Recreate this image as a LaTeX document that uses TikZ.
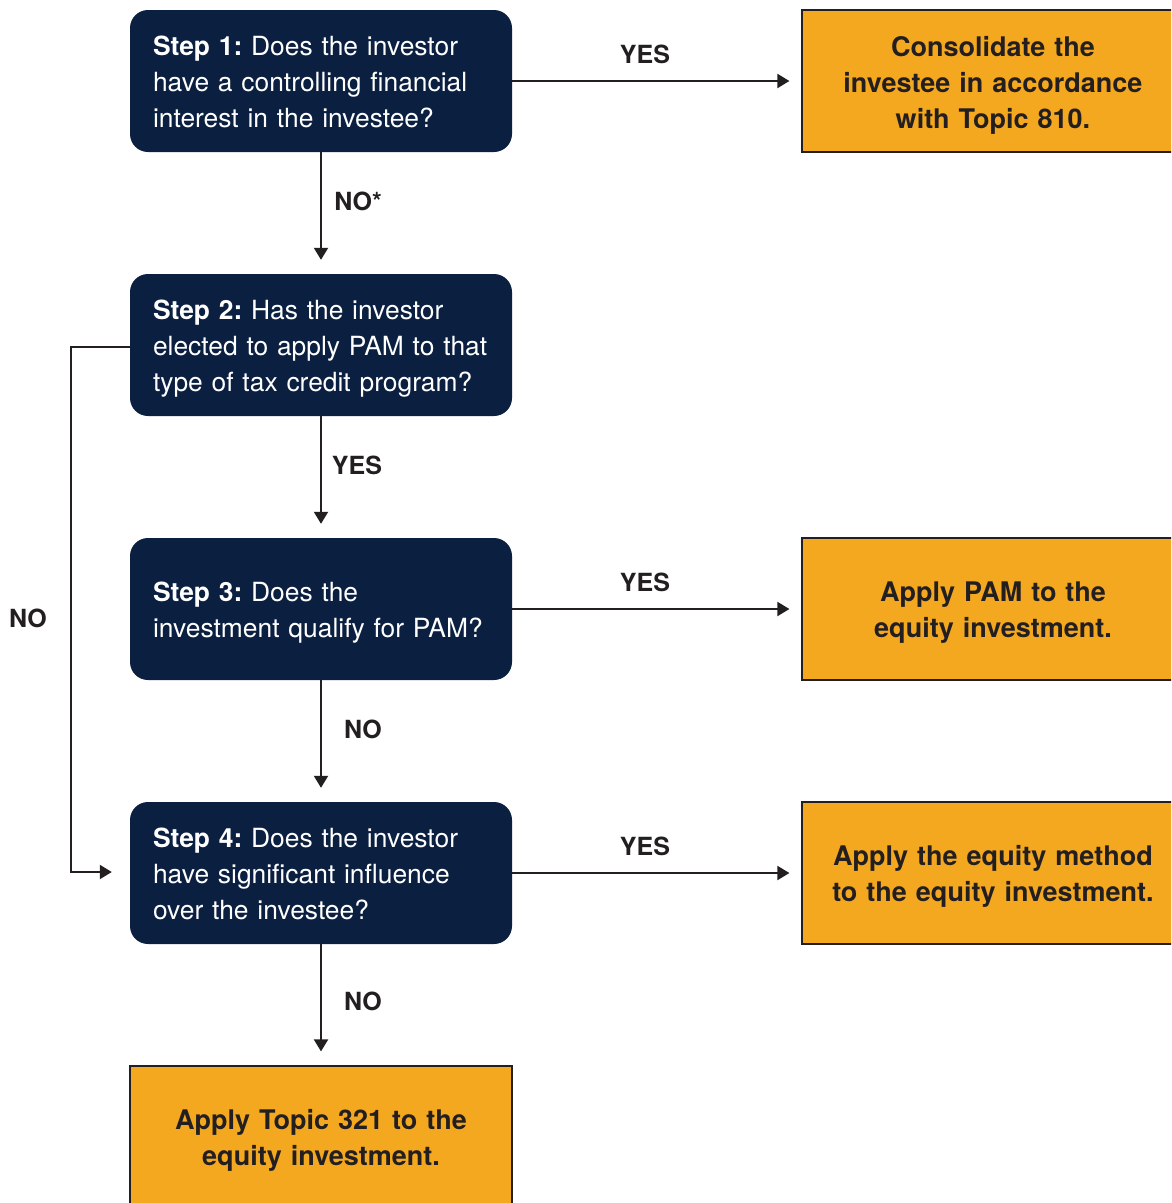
\documentclass[tikz,border=0pt]{standalone}
\usepackage{fontspec}
\setmainfont{TeX Gyre Heros}
\usetikzlibrary{arrows.meta}
\definecolor{navy}{HTML}{0B1F40}
\definecolor{amber}{HTML}{F4A81F}
\definecolor{ink}{HTML}{231F20}
\frenchspacing
\begin{document}
\begin{tikzpicture}[x=1pt,y=-1pt,
  stepbox/.style={fill=navy, rounded corners=18pt, minimum width=382pt, minimum height=142pt, inner sep=0pt},
  steptext/.style={text width=336pt, inner sep=0pt, text=white, align=left, font=\fontsize{26.4}{36}\selectfont},
  outbox/.style={fill=amber, draw=ink, line width=1.2pt, minimum width=382pt, minimum height=142pt, inner sep=0pt},
  outtext/.style={text width=370pt, inner sep=0pt, align=center, text=ink, font=\bfseries\fontsize{27}{36}\selectfont},
  lbl/.style={text=ink, font=\bfseries\fontsize{25}{28}\selectfont},
  arr/.style={draw=ink, line width=2pt, -{Triangle[length=12pt,width=14pt]}}]
\useasboundingbox (0,0) rectangle (1171,1203);
\clip (0,0) rectangle (1171,1203);
\fill[white] (0,0) rectangle (1171,1203);

\node[stepbox] (s1) at (321,81) {};
\node[stepbox] (s2) at (321,345) {};
\node[stepbox] (s3) at (321,609) {};
\node[stepbox] (s4) at (321,873) {};
\node[steptext] (t1) at ([yshift=-1pt]s1.center) {\mbox{\textbf{Step 1:} Does the investor}\\\mbox{have a controlling financial}\\\mbox{interest in the investee?}};
\node[steptext] (t2) at ([yshift=-4pt]s2.center) {\mbox{\textbf{Step 2:} Has the investor}\\\mbox{elected to apply PAM to that}\\\mbox{type of tax credit program?}};
\node[steptext] (t3) at ([yshift=-4pt]s3.center) {\mbox{\textbf{Step 3:} Does the}\\\mbox{investment qualify for PAM?}};
\node[steptext] (t4) at ([yshift=-1pt]s4.center) {\mbox{\textbf{Step 4:} Does the investor}\\\mbox{have significant influence}\\\mbox{over the investee?}};

\node[outbox] (o1) at (993,81) {};
\node[outbox] (o3) at (993,609) {};
\node[outbox] (o4) at (993,873) {};
\node[outbox] (o5) at (321,1137) {};
\node[outtext] (u1) at ([yshift=-4pt]o1.center) {Consolidate the\\investee in accordance\\with Topic 810.};
\node[outtext] (u3) at ([yshift=-4pt]o3.center) {Apply PAM to the\\equity investment.};
\node[outtext] (u4) at ([yshift=-3pt]o4.center) {\mbox{Apply the equity method}\\\mbox{to the equity investment.}};
\node[outtext] (u5) at ([yshift=-3pt]o5.center) {Apply Topic 321 to the\\equity investment.};

\draw[arr, shorten >=12pt] (s1.east) -- (o1.west);
\draw[arr, shorten >=12pt] (s3.east) -- (o3.west);
\draw[arr, shorten >=12pt] (s4.east) -- (o4.west);
\draw[arr, shorten >=14pt] (s1.south) -- (s2.north);
\draw[arr, shorten >=14pt] (s2.south) -- (s3.north);
\draw[arr, shorten >=14pt] (s3.south) -- (s4.north);
\draw[arr, shorten >=14pt] (s4.south) -- (o5.north);
\coordinate (lt) at (71,347);
\coordinate (lb) at (71,872);
\draw[arr, shorten >=18pt] (s2.west |- lt) -- (lt) -- (lb) -- (s4.west |- lb);

\node[lbl] (y1) at (645,54) {YES};
\node[lbl] (y3) at (645,582) {YES};
\node[lbl] (y4) at (645,846) {YES};
\node[lbl] (n1) at (358,201) {NO*};
\node[lbl] (y2) at (357,465) {YES};
\node[lbl] (n3) at (363,729) {NO};
\node[lbl] (n4) at (363,1001) {NO};
\node[lbl] (n2) at (28,618) {NO};
\end{tikzpicture}
\end{document}
